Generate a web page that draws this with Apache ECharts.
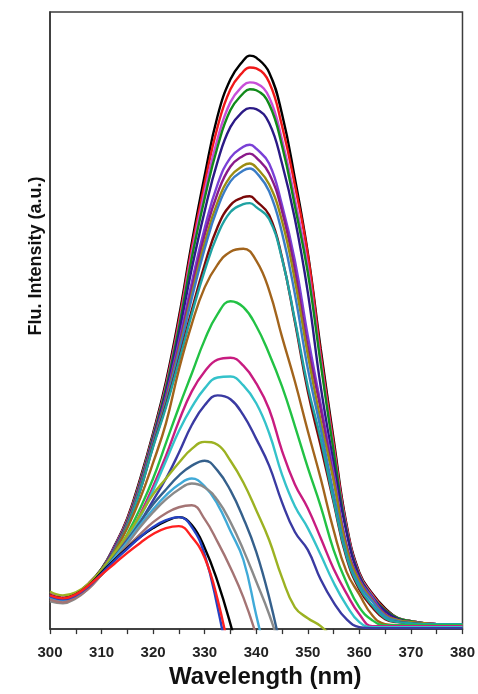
<!DOCTYPE html>
<html>
<head>
<meta charset="utf-8">
<script src="https://cdn.jsdelivr.net/npm/echarts@6/dist/echarts.min.js"></script>
<style>
html,body{margin:0;padding:0;background:#fff;}
#chart{width:478px;height:694px;}
</style>
</head>
<body>
<div id="chart"></div>
<script>
// Wavelength grids (nm): the upper curves have one extra reading at their peak (338.75 nm)
const wavelengths = [300,302.5,305,307.5,310,312.5,315,317.5,320,322.5,325,327.5,330,332.5,335,337.5,340,342.5,345,347.5,350,352.5,355,357.5,360,362.5,365,367.5,370,372.5,375,377.5,380];
const wavelengthsPeak = [300,302.5,305,307.5,310,312.5,315,317.5,320,322.5,325,327.5,330,332.5,335,337.5,338.75,340,342.5,345,347.5,350,352.5,355,357.5,360,362.5,365,367.5,370,372.5,375,377.5,380];
const xTicks = [300,310,320,330,340,350,360,370,380];

// Fluorescence intensity curves (a.u.)
// upper curves (on wavelengthsPeak)
const s01 = [35,32,36,46,61,84,112,152,198,250,315,390,458,518,555,574,579,577,562,520,455,380,283,192,106,57,36,21,11,8,6,5,5,5];
const s02 = [35,32,36,46,60,83,111,150,196,247,311,385,450,507,545,563,567,566,552,508,448,378,278,188,104,56,35,20,11,8,6,5,5,5];
const s03 = [35,32,36,45,60,83,110,149,195,245,307,380,442,495,532,549,552,551,537,494,434,366,272,183,102,55,34,19,11,8,6,5,5,5];
const s04 = [34,31,35,45,60,82,109,148,194,243,304,375,435,487,524,541,545,544,530,488,427,360,268,180,100,54,33,19,11,8,6,5,5,5];
const s05 = [34,31,35,45,59,82,108,146,192,239,298,364,422,472,507,523,526,525,511,470,414,340,245,168,98,53,32,18,10,7,6,5,5,5];
const s06 = [34,31,35,45,59,81,107,145,190,235,290,350,405,449,476,487,489,485,470,428,372,296,227,158,86,50,32,15,9,7,6,5,5,5];
const s07 = [34,31,35,45,59,81,106,144,189,233,286,344,398,440,467,478,480,476,460,422,362,285,222,152,84,49,30,15,9,7,6,5,5,5];
const s08 = [34,31,35,44,58,80,106,143,188,231,282,338,390,431,457,468,470,466,449,412,352,277,210,150,82,48,29,14,9,7,6,5,5,5];
const s09 = [33,30,34,44,58,80,105,142,187,229,279,334,384,425,452,463,465,461,442,400,338,263,202,137,76,45,28,13,8,6,5,5,5,5];
const s10 = [33,30,34,44,58,79,104,140,185,226,272,322,368,406,428,436,437,432,418,375,310,240,185,128,72,40,22,10,7,6,5,5,5,5];
const s11 = [33,30,34,44,58,79,104,140,184,224,270,318,362,398,421,429,430,426,414,374,312,245,192,130,74,42,24,11,7,6,5,5,5,5];
// lower curves (on wavelengths)
const s12 = [34,31,35,44,58,78,102,132,168,208,262,308,345,368,381,384,372,342,295,250,200,152,100,58,35,14,5,4,4,4,4,4,4];
const s13 = [33,30,34,43,56,74,96,122,152,188,224,258,292,318,331,325,306,278,245,205,163,124,80,47,22,9,4,4,4,4,4,4,4];
const s14 = [33,30,34,43,55,72,92,116,144,175,210,240,260,272,274,266,248,222,180,146,122,92,61,36,15,3,3,3,3,3,3,3,3];
const s15 = [33,30,34,43,55,71,90,113,140,170,200,224,243,254,255,246,228,198,156,124,102,75,47,24,7,2,2,2,2,2,2,2,2];
const s16 = [33,30,34,43,55,70,88,108,130,152,178,206,226,236,232,216,192,165,128,98,80,50,27,10,2,1,1,1,1,1,1,1,1];
const s17 = [38,34,37,46,60,77,95,115,136,152,168,182,189,186,170,148,120,90,52,22,11,3,-10];
const s18 = [33,29,33,42,57,73,90,108,126,141,155,165,170,160,140,112,78,32,-25];
const s19 = [32,29,33,42,56,72,88,105,121,135,146,152,144,126,99,70,14,-40];
const s20 = [28,26,31,41,55,70,86,103,118,131,141,147,143,130,108,80,48,15,-25];
const s21 = [30,27,32,41,55,69,83,96,108,117,123,125,111,88,62,32,-6];
const s22 = [34,31,35,44,57,70,82,93,102,109,113,105,82,48,5,-45];
const s23 = [33,30,34,43,56,69,81,93,103,110,113,103,75,22,-45];
const s24 = [34,31,35,44,55,66,77,87,96,102,104,93,72,30,-30];

const upperSeries = [s01,s02,s03,s04,s05,s06,s07,s08,s09,s10,s11];
const lowerSeries = [s12,s13,s14,s15,s16,s17,s18,s19,s20,s21,s22,s23,s24];
const seriesColors = ['#000000','#f01818','#c84ed8','#118a1a','#2b1a86','#7a40d6','#8a1a8a','#9c8c12','#3a7cc6','#7a0808','#1fa2a2','#a2641c','#22c244','#c81c80','#34c2ca','#3a3aa2','#9cb222','#35608c','#40aad8','#8a8a8a','#a47474','#000000','#2442c4','#ff2020'];

const chart = echarts.init(document.getElementById('chart'), null, {renderer:'canvas'});
const FONT = 'Liberation Sans, Arial, Helvetica, sans-serif';

function makeSeries(vals, xs, k) {
  return {
    type: 'line',
    data: vals.map((v, i) => [xs[i], v]),
    showSymbol: false,
    smooth: 0.45,
    clip: true,
    lineStyle: {color: seriesColors[k], width: 2.4},
    itemStyle: {color: seriesColors[k]},
    z: 2 + k
  };
}
const series = upperSeries.map((v, k) => makeSeries(v, wavelengthsPeak, k))
  .concat(lowerSeries.map((v, k) => makeSeries(v, wavelengths, k + upperSeries.length)));

chart.setOption({
  animation: false,
  backgroundColor: '#ffffff',
  grid: {left: 50, right: 14, top: 12, bottom: 59, show: true, borderColor: '#3c3c3c', borderWidth: 1.5, backgroundColor: 'transparent'},
  xAxis: {
    type: 'value', min: 300, max: 380, interval: 5,
    axisLine: {show: true, lineStyle: {color: '#333', width: 1.5}},
    axisTick: {show: true, inside: false, length: 5, lineStyle: {color: '#333', width: 1.3}},
    splitLine: {show: false},
    axisLabel: {
      margin: 16, color: '#222', fontSize: 15, fontWeight: 'bold', fontFamily: FONT,
      formatter: v => (xTicks.indexOf(v) >= 0 ? String(v) : '')
    },
    name: 'Wavelength (nm)', nameLocation: 'middle', nameGap: 35,
    nameTextStyle: {fontSize: 24, fontWeight: 'bold', color: '#111', fontFamily: FONT, padding: [0, 0, 0, 18]}
  },
  yAxis: {
    type: 'value', min: 0, max: 623,
    axisLine: {show: true, lineStyle: {color: '#333', width: 1.5}},
    axisTick: {show: false}, axisLabel: {show: false}, splitLine: {show: false}
  },
  graphic: [{
    type: 'text', x: 36, y: 256, rotation: Math.PI / 2,
    style: {text: 'Flu. Intensity (a.u.)', font: 'bold 18px ' + FONT, fill: '#111', textAlign: 'center', textVerticalAlign: 'middle'}
  }],
  series: series
});
</script>
</body>
</html>
